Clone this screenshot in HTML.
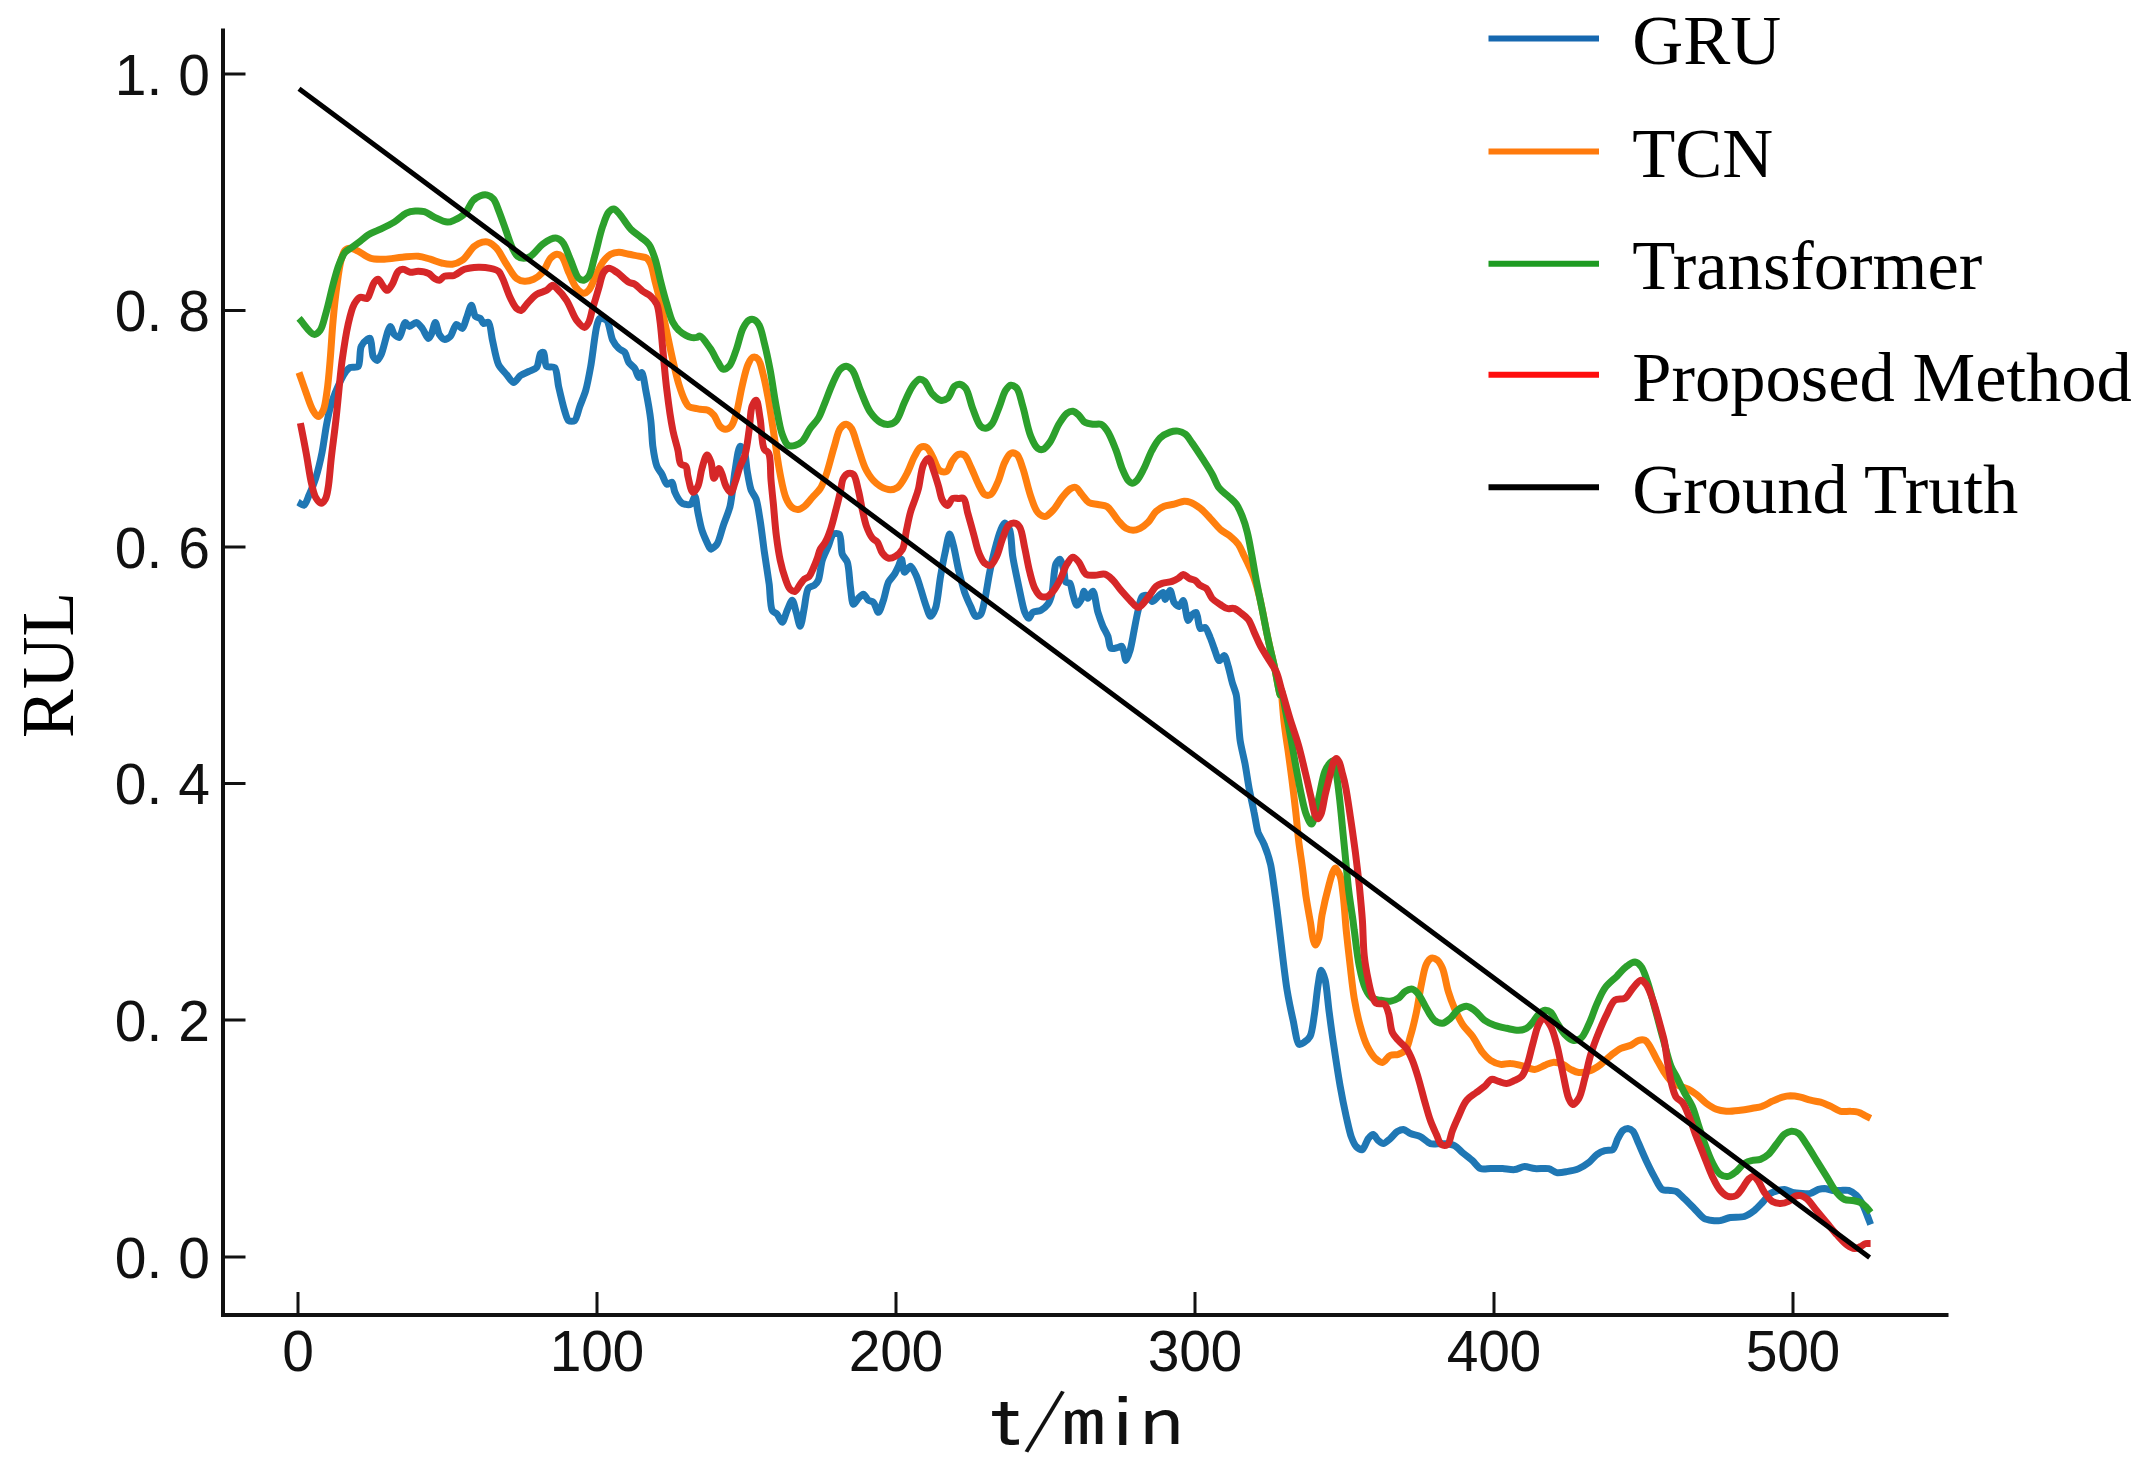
<!DOCTYPE html>
<html><head><meta charset="utf-8"><title>RUL</title>
<style>
html,body{margin:0;padding:0;background:#fff}
body{width:2145px;height:1474px;overflow:hidden}
svg{display:block}
.tk text{font-family:"Liberation Sans","DejaVu Sans",sans-serif;font-size:57px;fill:#111;text-anchor:middle}
.lg{font-family:"Liberation Serif","DejaVu Serif",serif;font-size:70.55px;fill:#000}
.yl{font-family:"Liberation Serif","DejaVu Serif",serif;font-size:73px;fill:#000;text-anchor:middle}
.xl{font-family:"IPAGothic","Liberation Mono","DejaVu Sans Mono",monospace;font-size:70px;fill:#111;text-anchor:middle;letter-spacing:-5px}
</style></head><body>
<svg width="2145" height="1474" viewBox="0 0 2145 1474">
<rect width="2145" height="1474" fill="#fff"/>
<g fill="none" stroke-linejoin="round" stroke-linecap="butt">
<path d="M298.0,502.2C299.6,503.0 302.7,505.7 304.0,505.2C305.8,504.7 307.7,498.3 309.0,495.2C310.8,491.3 314.1,483.3 315.7,478.2C317.6,472.0 320.7,459.1 322.1,452.1C323.5,445.2 325.1,432.4 326.3,426.1C327.3,420.8 328.8,412.6 330.1,408.0C331.3,403.7 333.5,396.9 335.3,392.5C337.5,387.3 343.3,375.0 345.7,371.7C347.0,370.0 348.6,368.2 350.1,367.5C351.9,366.7 356.7,368.0 358.2,366.5C360.5,364.2 359.4,350.2 361.2,346.4C362.3,343.9 365.7,340.4 367.2,339.4C368.0,338.8 369.5,338.0 370.2,338.4C371.8,339.4 371.7,353.5 373.2,356.5C374.0,358.1 376.2,360.6 377.2,360.5C378.3,360.4 380.1,356.8 381.2,354.5C383.5,349.8 388.1,326.5 390.2,326.4C391.4,326.3 392.8,332.9 394.2,334.4C395.4,335.6 398.1,337.8 399.3,337.4C401.2,336.7 403.5,322.7 405.3,322.4C406.3,322.2 408.0,326.2 409.3,326.4C410.8,326.6 414.6,322.1 416.3,322.4C418.1,322.6 420.8,326.5 422.3,328.4C424.1,330.6 426.9,338.3 428.3,338.4C429.2,338.5 430.6,335.8 431.3,334.4C432.5,332.1 434.3,322.4 435.3,322.4C436.4,322.4 437.9,332.0 439.3,334.4C440.5,336.2 442.9,339.2 444.4,339.4C445.8,339.7 449.0,337.8 450.4,336.4C452.4,334.4 454.4,324.9 456.4,324.4C457.8,324.0 461.1,328.8 462.4,328.4C464.0,327.9 465.3,321.2 466.4,318.4C467.7,315.1 470.2,305.3 471.4,305.3C472.6,305.3 473.8,314.7 475.4,316.4C476.5,317.5 479.4,317.5 480.4,318.4C481.5,319.3 482.3,322.9 483.4,323.4C484.5,323.8 487.4,321.7 488.5,322.4C490.5,323.7 491.3,335.3 492.5,340.4C493.9,346.4 496.1,359.6 498.5,364.5C500.2,368.0 504.4,372.0 506.5,374.5C508.4,376.8 511.6,382.5 513.5,382.5C515.4,382.6 518.5,377.0 520.5,375.5C522.5,374.1 526.4,372.6 528.6,371.5C530.7,370.4 535.0,369.4 536.6,367.5C538.6,365.1 539.1,355.0 540.6,353.4C541.3,352.7 542.9,352.1 543.6,352.4C545.0,353.3 544.6,364.7 546.6,366.5C548.1,367.8 553.0,366.0 554.6,367.5C557.1,369.7 557.4,381.2 558.6,386.5C560.0,392.6 563.0,405.6 564.6,410.6C565.7,413.9 567.0,419.5 568.6,420.6C569.9,421.5 573.4,421.5 574.7,420.6C576.7,419.2 578.3,410.4 579.7,406.6C581.2,402.4 584.3,395.3 585.7,390.5C587.3,384.8 589.4,373.7 590.7,366.5C592.4,357.2 595.0,332.9 596.7,326.4C597.5,323.4 598.3,319.1 599.7,318.4C601.0,317.7 605.2,318.9 606.7,320.4C609.3,322.9 610.7,336.4 612.8,340.4C614.2,343.2 617.0,346.8 618.8,348.4C620.3,349.9 623.5,350.9 624.8,352.4C626.3,354.4 627.3,360.3 628.8,362.5C630.1,364.4 633.5,366.6 634.8,368.5C636.2,370.5 637.8,377.4 638.8,377.5C639.6,377.6 641.1,372.4 641.8,372.5C643.1,372.7 644.8,385.1 645.8,390.5C647.2,397.5 649.9,412.9 650.8,420.6C651.7,427.7 652.0,439.7 652.8,446.1C653.6,451.8 655.3,462.1 656.9,466.2C657.9,468.9 660.6,471.9 661.9,474.2C663.3,476.7 665.2,483.6 666.9,484.2C668.0,484.6 670.9,481.7 671.9,482.2C673.3,482.9 673.7,489.6 674.9,492.2C676.1,495.0 679.2,500.7 680.9,502.2C681.9,503.2 683.7,504.0 684.9,504.2C686.3,504.6 689.7,505.0 690.9,504.2C692.5,503.3 694.1,496.1 694.9,496.2C696.1,496.4 697.0,507.9 697.9,512.3C698.9,516.9 700.4,525.6 702.0,530.3C703.6,535.2 708.7,546.7 710.0,548.3C710.3,548.8 710.6,549.2 711.0,549.2C712.0,549.1 715.7,546.2 717.0,544.1C719.2,541.0 721.4,531.0 723.1,526.1C724.8,520.9 728.6,512.3 730.1,506.1C732.0,498.0 733.6,479.0 735.1,470.4C736.3,463.4 738.2,446.9 740.1,446.4C741.0,446.1 743.3,448.7 744.1,450.4C745.7,453.5 746.2,465.1 747.1,470.4C748.0,475.7 749.6,485.9 751.1,490.0C752.2,493.0 755.0,496.0 756.1,499.0C757.7,503.4 759.1,514.0 760.1,520.1C761.3,527.4 763.0,541.9 764.1,550.2C765.4,559.0 768.0,575.8 769.2,584.2C770.1,591.6 770.1,606.6 772.2,610.3C773.2,612.2 775.9,612.9 777.2,614.3C778.7,616.0 780.9,622.4 782.2,622.3C783.7,622.2 785.8,613.3 787.2,610.3C788.5,607.5 791.0,600.2 792.2,600.3C793.5,600.4 795.2,609.0 796.2,612.3C797.3,615.9 799.2,626.4 800.2,626.3C801.4,626.3 803.2,613.2 804.2,608.3C805.3,603.1 806.1,591.1 808.3,588.3C809.5,586.6 812.9,586.3 814.3,585.2C815.6,584.2 817.4,582.2 818.3,580.2C819.9,576.8 820.8,565.0 822.3,560.2C823.6,556.0 826.8,549.8 828.3,546.2C829.7,542.8 831.4,535.4 833.3,534.1C834.6,533.2 838.1,533.1 839.3,534.1C841.5,536.0 840.8,550.1 842.3,554.2C843.3,556.9 846.3,559.3 847.3,562.2C849.0,566.8 849.5,580.3 850.3,586.2C851.1,591.4 851.8,603.9 853.4,604.3C854.4,604.6 857.0,599.7 858.4,598.3C859.6,597.0 862.1,594.1 863.4,594.3C864.8,594.4 866.9,599.2 868.4,600.3C869.6,601.2 872.2,601.2 873.4,602.3C875.1,603.8 877.1,612.4 878.4,612.3C879.8,612.3 882.2,603.9 883.4,600.3C884.9,596.0 886.6,586.0 888.4,582.2C889.8,579.5 893.1,576.4 894.5,574.2C895.7,572.1 897.5,568.3 898.5,566.2C899.4,564.3 900.8,559.1 901.5,559.2C902.4,559.3 903.0,571.8 904.5,572.2C905.7,572.6 909.0,566.0 910.5,566.2C912.2,566.4 915.2,573.4 916.5,576.2C917.9,579.2 919.4,584.8 920.5,588.3C921.8,592.2 924.1,600.3 925.5,604.3C926.8,607.8 929.1,616.2 930.5,616.3C931.8,616.4 934.4,611.3 935.5,608.3C937.6,602.7 939.1,584.3 940.6,576.2C941.8,568.9 944.2,556.3 945.6,550.2C946.6,545.4 948.4,534.2 949.6,534.1C950.6,534.1 952.6,542.4 953.6,546.2C955.0,551.4 957.1,564.0 958.6,570.2C960.1,576.2 962.8,587.1 964.6,592.3C966.1,596.5 969.0,602.9 970.6,606.3C972.0,609.2 974.0,615.7 975.6,616.3C976.8,616.8 979.6,615.5 980.7,614.3C982.4,612.4 983.6,604.7 984.7,600.3C986.1,594.1 988.3,579.2 989.7,572.2C990.9,566.0 993.2,555.9 994.7,550.2C996.1,544.7 999.0,534.0 1000.7,530.1C1001.7,527.7 1003.5,523.2 1004.7,523.1C1005.9,523.0 1008.7,527.5 1009.7,530.1C1011.5,534.7 1011.6,549.0 1012.7,556.2C1013.9,563.9 1017.1,578.5 1018.7,586.2C1020.3,593.5 1022.9,607.9 1024.8,612.3C1025.7,614.6 1027.7,618.3 1028.8,618.3C1029.8,618.3 1031.3,613.4 1032.8,612.3C1034.4,611.2 1038.8,611.3 1040.8,610.3C1042.9,609.2 1046.4,606.3 1047.8,604.3C1049.4,602.1 1050.9,597.7 1051.8,594.3C1053.3,588.5 1053.9,568.7 1055.8,564.2C1056.7,562.1 1058.9,559.0 1059.8,559.2C1061.1,559.4 1063.0,567.2 1063.8,570.2C1064.7,573.3 1064.5,580.8 1065.9,582.2C1066.6,583.1 1069.0,582.4 1069.9,583.2C1071.3,584.6 1071.9,591.3 1072.9,594.3C1073.8,597.2 1075.5,605.1 1076.9,605.3C1078.0,605.4 1080.9,600.2 1081.9,598.3C1082.8,596.5 1083.1,591.4 1083.9,591.3C1084.7,591.2 1086.7,598.2 1087.9,598.3C1089.1,598.3 1091.8,591.0 1092.9,591.3C1094.7,591.6 1096.4,607.3 1097.9,612.3C1099.2,616.5 1101.5,623.0 1102.9,626.3C1104.2,629.3 1106.9,633.5 1107.9,636.4C1109.1,639.4 1109.2,647.2 1111.0,648.4C1112.3,649.3 1116.4,647.7 1118.0,647.4C1119.2,647.1 1121.1,645.9 1122.0,646.4C1123.7,647.4 1124.8,660.4 1126.0,660.4C1127.0,660.5 1129.1,653.7 1130.0,650.6C1131.4,646.2 1133.0,635.9 1134.1,630.5C1135.1,625.2 1136.9,615.3 1138.1,610.5C1139.1,606.4 1140.3,598.1 1142.1,596.5C1143.1,595.5 1145.9,595.0 1147.1,595.5C1148.6,596.0 1150.6,601.3 1152.1,601.5C1153.6,601.6 1156.6,597.7 1158.1,596.5C1159.5,595.3 1162.2,592.2 1163.1,592.4C1164.1,592.8 1164.3,599.4 1165.1,599.5C1166.1,599.6 1169.0,590.3 1170.1,590.4C1171.4,590.6 1172.6,600.3 1174.1,602.5C1175.2,604.0 1178.0,606.7 1179.2,606.5C1180.4,606.3 1182.2,600.3 1183.2,600.5C1184.8,600.7 1186.5,620.2 1188.2,620.5C1189.1,620.7 1191.0,615.6 1192.2,614.5C1193.2,613.6 1195.3,612.1 1196.2,612.5C1197.9,613.3 1198.3,627.3 1200.2,628.5C1201.3,629.2 1204.1,627.0 1205.2,627.5C1206.9,628.4 1209.0,634.8 1210.2,637.6C1211.5,640.4 1213.1,645.6 1214.2,648.6C1215.5,651.7 1217.6,660.3 1219.3,660.6C1220.4,660.8 1223.2,655.3 1224.3,655.6C1225.7,655.9 1227.3,663.4 1228.3,666.6C1229.5,670.5 1231.1,678.7 1232.3,682.7C1233.3,686.2 1235.5,691.3 1236.3,695.1C1237.3,699.9 1237.6,710.3 1238.1,716.1C1238.6,722.3 1239.2,733.8 1240.1,740.2C1241.0,746.6 1243.9,757.8 1245.1,764.2C1246.3,770.6 1247.9,781.9 1249.1,788.3C1250.3,794.7 1252.9,806.2 1254.1,812.4C1255.3,817.9 1256.6,827.8 1258.1,832.4C1259.4,836.1 1262.7,840.7 1264.1,844.4C1266.0,849.0 1269.3,858.9 1270.6,864.5C1271.9,870.2 1273.1,880.5 1274.0,886.5C1274.9,892.8 1276.3,903.8 1277.2,910.6C1278.1,918.2 1279.7,931.6 1280.8,940.7C1282.2,952.2 1285.2,978.7 1287.1,990.2C1288.6,999.3 1291.4,1012.7 1293.1,1020.3C1294.6,1027.1 1296.7,1043.1 1299.1,1044.3C1300.3,1044.9 1302.8,1043.2 1304.1,1042.3C1305.8,1041.2 1308.9,1038.6 1310.1,1036.3C1312.1,1032.7 1313.2,1022.3 1314.1,1016.3C1315.4,1008.7 1317.0,991.0 1318.2,984.2C1318.9,979.7 1320.1,970.3 1321.2,970.2C1322.1,970.1 1324.3,976.7 1325.2,980.2C1326.7,986.3 1328.0,1003.5 1329.2,1012.3C1330.4,1021.6 1332.7,1038.6 1334.2,1048.3C1335.7,1058.4 1338.5,1076.9 1340.2,1086.4C1341.7,1094.9 1344.6,1109.3 1346.2,1116.5C1347.6,1122.4 1349.6,1132.2 1351.2,1136.6C1352.4,1139.8 1354.5,1144.8 1356.2,1146.6C1357.6,1147.9 1360.8,1150.0 1362.3,1149.6C1364.2,1149.0 1366.5,1140.7 1368.3,1138.6C1369.5,1137.1 1372.0,1134.4 1373.3,1134.5C1374.7,1134.7 1376.8,1139.3 1378.3,1140.6C1379.6,1141.6 1381.9,1143.6 1383.3,1143.6C1385.0,1143.5 1388.5,1140.1 1390.3,1138.6C1392.3,1136.9 1395.4,1132.7 1397.3,1131.5C1398.9,1130.6 1401.7,1129.4 1403.4,1129.5C1405.2,1129.7 1408.3,1132.6 1410.4,1133.5C1412.8,1134.6 1417.8,1135.3 1420.4,1136.6C1423.2,1137.9 1427.5,1142.6 1430.4,1143.6C1433.3,1144.5 1439.3,1143.3 1442.4,1143.6C1445.7,1143.8 1451.7,1144.3 1454.5,1145.6C1457.0,1146.8 1460.2,1150.7 1462.5,1152.6C1465.0,1154.7 1470.0,1158.4 1472.5,1160.6C1474.8,1162.7 1478.0,1167.6 1480.5,1168.6C1482.9,1169.6 1487.8,1168.6 1490.6,1168.6C1493.6,1168.6 1499.4,1168.5 1502.6,1168.6C1505.8,1168.8 1511.6,1169.9 1514.6,1169.6C1517.4,1169.3 1521.9,1166.7 1524.6,1166.6C1527.3,1166.5 1531.7,1168.3 1534.7,1168.6C1538.1,1169.0 1545.5,1167.9 1548.7,1168.6C1551.2,1169.2 1554.4,1172.2 1556.7,1172.6C1559.2,1173.1 1564.0,1172.1 1566.7,1171.6C1569.8,1171.1 1575.8,1169.9 1578.8,1168.6C1581.7,1167.4 1586.4,1164.5 1588.8,1162.6C1591.2,1160.7 1594.5,1156.2 1596.8,1154.6C1598.8,1153.1 1602.6,1151.2 1604.8,1150.6C1606.9,1150.0 1611.2,1150.8 1612.8,1149.6C1614.9,1148.1 1616.4,1141.2 1617.9,1138.6C1619.1,1136.2 1621.3,1131.9 1622.9,1130.5C1624.1,1129.5 1626.5,1128.5 1627.9,1128.5C1629.3,1128.6 1631.9,1130.0 1633.1,1131.3C1634.8,1133.1 1636.6,1139.0 1638.1,1142.3C1640.0,1146.5 1643.9,1155.7 1646.1,1160.4C1648.2,1164.8 1651.9,1172.4 1654.1,1176.4C1656.2,1180.1 1659.5,1187.8 1662.1,1189.4C1664.0,1190.7 1668.2,1190.2 1670.2,1190.4C1671.9,1190.7 1674.6,1190.7 1676.2,1191.4C1678.3,1192.5 1682.0,1196.4 1684.2,1198.5C1686.8,1200.9 1691.5,1205.8 1694.2,1208.5C1696.9,1211.2 1701.5,1217.0 1704.2,1218.5C1706.3,1219.7 1710.1,1220.2 1712.3,1220.5C1714.4,1220.8 1718.0,1220.8 1720.3,1220.5C1722.8,1220.1 1727.4,1218.0 1730.3,1217.5C1733.7,1216.9 1741.0,1217.6 1744.3,1216.5C1747.4,1215.5 1751.9,1212.4 1754.4,1210.5C1756.7,1208.6 1760.3,1204.7 1762.4,1202.5C1764.6,1200.2 1768.0,1195.1 1770.4,1193.4C1772.4,1192.1 1776.4,1191.0 1778.4,1190.4C1780.1,1190.0 1782.7,1189.3 1784.4,1189.4C1786.4,1189.6 1790.2,1191.9 1792.4,1192.4C1794.9,1193.0 1799.9,1193.3 1802.5,1193.4C1804.7,1193.6 1808.4,1193.9 1810.5,1193.4C1812.7,1192.9 1816.5,1190.1 1818.5,1189.4C1820.2,1188.9 1822.8,1188.4 1824.5,1188.4C1826.5,1188.5 1830.4,1190.2 1832.5,1190.4C1834.7,1190.7 1838.4,1190.4 1840.6,1190.4C1842.7,1190.4 1846.5,1189.9 1848.6,1190.4C1850.8,1191.1 1854.8,1193.7 1856.6,1195.5C1858.6,1197.4 1861.2,1201.8 1862.6,1204.5C1864.2,1207.4 1866.5,1213.6 1867.6,1216.5C1868.6,1218.8 1869.8,1222.4 1870.6,1224.5" stroke="#1f77b4" stroke-width="7.0"/>
<path d="M299.0,372.5C301.4,379.2 303.6,386.1 306.0,392.5C308.3,398.7 310.5,406.3 313.1,410.6C314.7,413.3 316.4,416.6 318.1,416.6C319.7,416.6 321.7,413.4 323.1,410.6C325.3,406.0 326.0,397.9 327.1,390.5C328.4,381.6 329.2,371.2 330.1,360.5C331.2,348.1 331.9,333.4 333.1,320.4C334.2,308.0 335.6,295.1 337.1,284.3C338.3,275.4 339.4,266.5 341.1,260.2C342.3,256.1 343.2,252.1 345.1,250.2C346.5,248.8 348.3,248.2 350.1,248.2C352.5,248.2 355.3,249.8 358.2,251.2C361.8,253.0 365.9,256.9 370.2,258.2C374.5,259.6 379.3,259.3 384.2,259.2C389.9,259.1 396.4,257.7 402.3,257.2C407.8,256.7 413.4,255.8 418.3,256.2C422.6,256.6 426.3,258.1 430.3,259.2C434.4,260.4 438.5,262.4 442.4,263.2C445.8,264.0 449.1,264.7 452.4,264.2C455.8,263.8 459.2,262.5 462.4,260.2C466.6,257.2 470.5,249.3 474.4,246.2C477.2,244.1 479.9,242.8 482.4,242.2C484.5,241.7 486.4,241.5 488.5,242.2C491.1,243.1 493.9,245.4 496.5,248.2C500.0,252.1 503.1,259.1 506.5,264.2C509.8,269.1 512.9,275.5 516.5,278.3C519.1,280.2 521.8,281.1 524.5,281.3C527.4,281.5 530.7,280.6 533.6,279.3C536.8,277.8 539.9,275.3 542.6,272.3C545.8,268.6 547.7,261.3 550.6,258.2C552.5,256.2 554.7,254.4 556.6,254.2C558.3,254.0 560.1,254.7 561.6,256.2C564.4,258.9 566.2,266.9 568.6,272.3C571.2,277.6 573.6,284.7 576.7,288.3C578.8,290.8 581.5,293.2 583.7,293.3C585.5,293.4 587.2,292.0 588.7,290.3C591.0,287.8 592.6,282.6 594.7,278.3C597.2,273.3 599.7,266.5 602.7,262.2C605.2,258.9 607.8,255.9 610.7,254.2C613.2,252.8 615.9,252.3 618.8,252.2C621.9,252.1 625.4,253.6 628.8,254.2C632.1,254.9 635.7,255.5 638.8,256.2C641.6,256.9 644.8,256.8 646.8,258.2C648.7,259.6 649.7,261.6 650.8,264.2C652.6,268.2 653.4,274.4 654.8,280.3C656.7,287.5 658.9,296.0 660.9,304.3C662.9,313.3 664.9,323.0 666.9,332.4C668.9,341.8 670.8,351.5 672.9,360.5C674.8,368.8 676.7,377.4 678.9,384.5C680.8,390.5 682.9,396.6 684.9,400.6C686.2,403.1 687.0,405.2 688.9,406.6C691.0,408.0 694.9,408.1 696.9,408.6C698.2,408.9 698.7,409.1 700.0,409.3C702.0,409.6 705.7,409.3 708.0,410.3C710.3,411.3 712.2,413.1 714.0,415.3C716.3,418.1 717.8,424.0 720.0,426.3C721.6,427.9 723.3,429.3 725.1,429.3C727.0,429.4 729.4,428.1 731.1,426.3C733.4,423.8 734.5,419.2 736.1,414.3C738.4,407.0 740.0,395.0 742.1,386.2C744.0,378.4 745.7,369.3 748.1,364.2C749.6,361.0 751.2,357.7 753.1,357.2C754.6,356.7 756.7,357.7 758.1,359.2C760.6,361.7 761.6,368.5 763.1,374.2C765.0,381.2 766.5,389.3 768.2,398.3C770.2,409.5 772.2,423.6 774.2,436.3C776.2,449.0 777.9,463.2 780.2,474.4C782.0,483.4 783.6,492.6 786.2,498.5C787.9,502.4 789.9,505.7 792.2,507.5C794.0,508.9 796.3,509.7 798.2,509.5C800.3,509.4 802.2,508.0 804.2,506.5C806.9,504.4 809.6,500.5 812.3,497.5C814.9,494.5 818.0,492.0 820.3,488.5C822.8,484.5 824.3,480.0 826.3,474.4C829.0,466.7 831.7,454.7 834.3,446.4C836.4,439.7 837.6,432.0 840.3,428.3C842.0,426.1 844.5,424.2 846.3,424.3C848.1,424.4 849.8,426.2 851.4,428.3C854.1,432.3 855.9,441.5 858.4,448.4C860.9,455.6 863.0,464.2 866.4,470.4C869.2,475.6 872.5,480.2 876.4,483.4C880.0,486.4 884.6,489.0 888.4,489.5C891.6,489.9 894.8,489.3 897.5,487.5C901.0,485.1 903.8,479.3 906.5,474.4C909.5,469.0 911.8,461.3 914.5,456.4C916.5,452.8 918.1,448.6 920.5,447.4C922.3,446.4 924.7,446.4 926.5,447.4C928.9,448.6 930.6,453.0 932.5,456.4C934.9,460.5 936.5,468.2 939.6,470.4C941.6,471.9 944.6,472.4 946.6,471.4C949.2,470.1 950.3,463.4 952.6,460.4C954.4,457.9 956.4,455.1 958.6,454.4C960.5,453.8 962.9,454.1 964.6,455.4C967.1,457.2 968.6,462.2 970.6,466.4C973.2,471.6 976.0,479.4 978.6,484.5C980.7,488.4 982.2,493.1 984.7,494.5C986.4,495.5 988.9,495.5 990.7,494.5C993.4,492.9 995.6,487.1 997.7,482.4C1000.3,476.7 1002.1,467.6 1004.7,462.4C1006.6,458.7 1008.3,454.4 1010.7,453.4C1012.5,452.6 1015.0,453.0 1016.7,454.4C1019.5,456.5 1020.8,462.9 1022.8,468.4C1025.5,476.1 1027.9,488.5 1030.8,496.5C1033.0,502.7 1034.8,509.2 1037.8,512.5C1039.8,514.8 1042.4,516.7 1044.8,516.5C1047.4,516.4 1050.2,513.2 1052.8,510.5C1056.3,507.0 1059.5,500.4 1062.8,496.5C1065.5,493.3 1068.3,489.8 1070.9,488.5C1072.6,487.5 1074.3,486.9 1075.9,487.5C1078.0,488.2 1079.8,492.1 1081.9,494.5C1084.1,497.1 1086.1,500.8 1088.9,502.5C1091.5,504.0 1094.9,503.8 1097.9,504.5C1100.9,505.2 1104.1,504.7 1106.9,506.5C1110.9,509.0 1114.5,516.4 1118.0,520.3C1120.8,523.4 1123.2,526.6 1126.0,528.3C1128.3,529.6 1130.7,530.3 1133.1,530.3C1135.4,530.3 1137.8,529.4 1140.1,528.3C1142.8,527.0 1145.6,524.8 1148.1,522.3C1151.0,519.3 1153.1,514.0 1156.1,511.3C1158.6,509.0 1161.2,507.4 1164.1,506.2C1167.2,505.0 1170.8,505.1 1174.1,504.2C1177.5,503.4 1181.2,501.4 1184.2,501.2C1186.4,501.1 1188.0,501.4 1190.2,502.2C1193.2,503.3 1197.0,505.8 1200.2,508.3C1203.7,511.0 1206.9,514.8 1210.2,518.3C1213.6,521.8 1216.7,526.2 1220.3,529.3C1223.4,532.1 1227.2,533.8 1230.3,536.3C1233.2,538.8 1236.1,541.2 1238.3,544.3C1240.6,547.6 1242.2,551.9 1243.9,555.4C1245.5,558.5 1246.9,561.5 1248.3,564.4C1249.6,567.1 1250.8,569.6 1251.9,572.4C1253.2,575.5 1254.4,578.9 1255.5,582.4C1256.8,586.3 1257.9,590.3 1258.9,594.7C1260.2,599.6 1261.1,604.4 1262.4,610.5C1264.1,618.9 1266.3,630.9 1268.4,640.6C1270.3,649.6 1272.4,657.7 1274.4,666.6C1276.4,675.9 1279.5,695.1 1280.4,695.1C1280.8,695.1 1280.8,690.1 1281.0,690.1C1281.4,690.1 1282.1,701.0 1282.6,706.1C1283.0,710.9 1283.3,715.0 1283.8,719.9C1284.4,725.6 1285.4,732.7 1286.2,738.2C1286.8,742.6 1287.3,745.3 1288.0,750.2C1289.1,758.0 1290.7,770.1 1292.0,780.3C1293.3,790.8 1294.7,802.0 1295.8,812.4C1296.9,822.0 1297.5,830.9 1298.6,840.4C1299.8,850.3 1301.6,860.8 1302.8,870.5C1304.0,879.5 1304.8,887.9 1306.0,896.6C1307.3,905.3 1309.1,914.7 1310.5,922.6C1311.6,929.2 1312.2,936.7 1313.5,940.7C1314.1,942.7 1314.9,945.1 1315.7,945.1C1316.6,945.1 1317.8,941.6 1318.7,938.6C1320.3,933.3 1320.5,923.0 1322.1,914.6C1323.9,905.1 1327.0,892.3 1329.1,884.5C1330.4,879.6 1331.4,875.5 1332.7,872.5C1333.5,870.5 1334.4,867.9 1335.3,867.9C1336.1,867.8 1337.1,870.2 1337.9,871.5C1338.8,873.0 1339.6,874.2 1340.3,876.5C1341.7,880.9 1342.4,889.0 1343.3,896.6C1344.5,906.3 1345.1,918.7 1346.2,930.1C1347.4,941.9 1348.9,954.5 1350.2,966.2C1351.5,977.2 1352.5,987.9 1354.2,998.2C1355.9,1007.9 1357.9,1017.8 1360.3,1026.3C1362.3,1033.6 1364.4,1040.7 1367.3,1046.3C1369.6,1051.0 1372.4,1055.6 1375.3,1058.4C1377.5,1060.4 1380.0,1062.6 1382.3,1062.4C1385.0,1062.1 1387.4,1056.7 1390.3,1055.4C1392.8,1054.2 1395.8,1055.2 1398.3,1054.4C1400.9,1053.5 1403.5,1052.6 1405.4,1050.3C1407.9,1047.3 1408.8,1041.7 1410.4,1036.3C1412.5,1029.4 1414.6,1020.6 1416.4,1012.3C1418.3,1003.3 1419.6,992.7 1421.4,984.2C1423.0,976.9 1424.1,968.7 1426.4,964.1C1427.8,961.3 1429.5,958.7 1431.4,958.1C1433.2,957.6 1435.7,958.8 1437.4,960.1C1439.5,961.8 1440.9,964.6 1442.4,968.2C1444.9,973.9 1446.2,985.1 1448.5,992.2C1450.3,998.2 1452.2,1003.0 1454.5,1008.3C1456.8,1013.7 1459.4,1019.5 1462.5,1024.3C1465.4,1028.8 1469.3,1031.9 1472.5,1036.3C1476.0,1041.2 1479.1,1048.1 1482.5,1052.4C1485.2,1055.7 1487.5,1058.4 1490.6,1060.4C1493.5,1062.3 1497.2,1063.9 1500.6,1064.4C1503.9,1064.8 1507.3,1063.2 1510.6,1063.4C1514.0,1063.5 1517.0,1064.5 1520.6,1065.4C1524.9,1066.4 1530.4,1069.6 1534.7,1069.4C1538.3,1069.2 1541.5,1066.6 1544.7,1065.4C1547.5,1064.3 1549.8,1062.6 1552.7,1062.4C1555.8,1062.1 1559.7,1063.2 1562.7,1064.4C1565.7,1065.5 1568.0,1068.0 1570.7,1069.4C1573.4,1070.7 1575.8,1072.1 1578.8,1072.4C1582.3,1072.7 1587.1,1071.8 1590.8,1070.4C1594.4,1069.1 1597.6,1066.8 1600.8,1064.4C1604.3,1061.8 1607.4,1058.1 1610.8,1055.4C1614.1,1052.8 1617.4,1050.0 1620.9,1048.3C1624.1,1046.8 1627.8,1046.7 1630.9,1045.3C1633.8,1044.0 1636.3,1041.1 1638.9,1040.3C1641.0,1039.7 1643.2,1039.6 1644.9,1040.3C1646.7,1041.1 1647.7,1043.0 1649.1,1045.1C1651.3,1048.3 1653.7,1053.7 1656.1,1058.1C1658.7,1062.7 1661.3,1068.0 1664.1,1072.2C1666.7,1075.9 1669.2,1079.8 1672.2,1082.2C1674.6,1084.2 1677.5,1085.0 1680.2,1086.2C1682.8,1087.4 1685.6,1087.9 1688.2,1089.2C1690.9,1090.6 1693.5,1092.2 1696.2,1094.2C1699.5,1096.7 1702.8,1100.7 1706.2,1103.2C1709.5,1105.6 1712.8,1107.9 1716.3,1109.3C1719.5,1110.5 1722.7,1111.0 1726.3,1111.3C1730.6,1111.5 1735.8,1110.8 1740.3,1110.3C1744.5,1109.8 1748.5,1109.0 1752.4,1108.3C1755.9,1107.6 1759.1,1107.4 1762.4,1106.2C1765.8,1105.1 1769.0,1102.8 1772.4,1101.2C1775.7,1099.7 1779.2,1098.1 1782.4,1097.2C1785.2,1096.4 1787.6,1095.9 1790.4,1095.8C1793.6,1095.8 1797.2,1096.5 1800.5,1097.2C1803.8,1098.0 1807.1,1099.4 1810.5,1100.2C1813.8,1101.1 1817.2,1101.3 1820.5,1102.2C1823.9,1103.2 1827.2,1104.8 1830.5,1106.2C1833.9,1107.8 1837.1,1110.4 1840.6,1111.3C1843.8,1112.0 1847.4,1111.1 1850.6,1111.3C1853.4,1111.4 1856.2,1111.5 1858.6,1112.3C1860.8,1112.9 1862.6,1114.3 1864.6,1115.3C1866.6,1116.3 1868.6,1117.3 1870.6,1118.3" stroke="#ff7f0e" stroke-width="7.0"/>
<path d="M299.0,318.4C304.0,323.7 310.0,333.9 314.1,334.4C316.4,334.7 318.4,332.6 320.1,330.4C322.8,326.8 324.1,319.1 326.1,312.4C328.5,304.1 330.8,292.8 333.1,284.3C335.1,277.0 336.8,270.0 339.1,264.2C340.9,259.6 342.6,255.2 345.1,252.2C347.1,249.9 349.7,249.0 352.1,247.2C354.7,245.3 357.4,243.3 360.2,241.2C363.1,239.0 366.1,236.0 369.2,234.2C372.1,232.4 374.8,231.8 378.2,230.2C382.8,228.0 389.4,225.1 394.2,222.1C398.7,219.4 402.4,214.9 406.3,213.1C409.3,211.7 412.3,211.3 415.3,211.1C418.3,210.9 421.3,210.9 424.3,211.7C427.7,212.7 430.7,215.5 434.3,217.1C438.3,219.0 443.7,222.0 447.4,222.1C450.0,222.3 451.9,221.2 454.4,220.1C457.5,218.8 461.4,217.0 464.4,214.1C467.9,210.7 470.2,203.3 473.4,200.1C475.7,197.9 478.0,196.5 480.4,195.7C482.7,194.9 485.3,194.5 487.5,195.1C489.6,195.6 491.8,197.1 493.5,199.1C495.7,201.7 496.8,205.9 498.5,210.1C500.7,215.6 503.2,222.8 505.5,229.2C507.8,235.5 510.1,243.3 512.5,248.2C514.2,251.6 515.4,254.6 517.5,256.2C519.2,257.6 521.5,258.2 523.5,258.2C525.8,258.3 528.1,257.7 530.6,256.2C534.3,254.0 538.8,247.2 542.6,244.2C545.4,242.0 548.0,240.2 550.6,239.2C552.7,238.4 554.7,237.8 556.6,238.2C558.7,238.6 560.8,240.0 562.6,242.2C565.7,245.8 568.0,254.2 570.7,260.2C573.3,266.2 575.7,275.4 578.7,278.3C580.2,279.8 582.1,280.5 583.7,280.3C585.4,280.0 587.2,278.4 588.7,276.3C591.4,272.3 592.6,263.6 594.7,256.2C597.3,247.2 599.9,234.2 602.7,226.2C604.7,220.5 606.3,214.9 608.7,212.1C610.2,210.4 612.1,209.0 613.8,209.1C615.5,209.2 616.9,211.2 618.8,213.1C622.1,216.6 626.7,224.9 630.8,229.2C634.1,232.5 637.7,234.6 640.8,237.2C643.7,239.6 646.6,241.1 648.8,244.2C651.5,247.9 653.0,252.8 654.8,258.2C657.2,265.1 658.8,274.5 660.9,282.3C662.8,289.8 664.8,297.4 666.9,304.3C668.8,310.7 670.4,317.7 672.9,322.4C674.7,325.8 676.6,328.2 678.9,330.4C681.0,332.5 683.7,334.2 685.9,335.4C687.7,336.4 689.2,337.1 690.9,337.4C692.8,337.8 695.3,337.7 696.9,337.4C698.2,337.2 698.8,335.8 700.0,336.1C702.6,336.7 707.0,343.8 710.0,348.1C713.1,352.5 715.6,358.3 718.0,362.2C719.8,365.0 721.1,368.7 723.1,369.2C724.8,369.6 727.3,368.1 729.1,366.2C732.0,363.1 733.9,356.0 736.1,350.1C738.6,343.4 740.3,333.5 743.1,328.1C744.9,324.6 746.9,321.3 749.1,320.1C750.7,319.2 752.6,319.1 754.1,319.7C756.0,320.4 757.7,322.5 759.1,325.1C761.4,329.0 762.5,335.7 764.1,342.1C766.2,350.3 768.3,360.2 770.2,370.2C772.3,381.4 774.0,395.0 776.2,406.3C778.1,416.2 779.6,427.3 782.2,434.3C783.9,439.0 785.6,443.8 788.2,445.4C790.2,446.5 793.0,446.0 795.2,445.4C797.6,444.7 800.1,443.5 802.2,441.4C805.2,438.5 807.5,432.3 810.3,428.3C812.8,424.7 816.0,422.1 818.3,418.3C820.8,414.2 822.2,409.4 824.3,404.3C826.8,398.2 829.5,390.4 832.3,384.2C834.8,378.8 837.3,372.1 840.3,369.2C842.2,367.4 844.4,366.1 846.3,366.2C848.4,366.3 850.5,367.9 852.4,370.2C855.5,374.1 857.5,383.4 860.4,390.2C863.5,397.4 866.5,406.6 870.4,412.3C873.4,416.6 876.9,420.4 880.4,422.3C883.3,423.9 886.7,424.7 889.4,424.3C892.0,423.9 894.4,422.6 896.5,420.3C899.7,416.7 901.7,408.1 904.5,402.3C907.1,396.7 909.6,390.3 912.5,386.2C914.7,383.2 917.2,379.7 919.5,379.2C921.2,378.9 922.9,379.8 924.5,381.2C927.3,383.5 929.5,390.9 932.5,394.2C935.0,396.9 937.8,399.8 940.6,400.3C942.9,400.7 945.5,399.9 947.6,398.3C950.4,396.0 952.0,388.4 954.6,386.2C956.2,384.9 957.9,384.0 959.6,384.2C961.6,384.4 963.8,385.9 965.6,388.2C968.6,392.1 970.1,401.8 972.6,408.3C975.1,414.5 977.6,423.4 980.7,426.3C982.2,427.8 984.0,428.5 985.7,428.3C987.6,428.1 989.9,426.5 991.7,424.3C994.5,421.0 996.4,413.8 998.7,408.3C1001.1,402.5 1003.1,394.2 1005.7,390.2C1007.3,387.8 1008.9,385.5 1010.7,385.2C1012.5,384.9 1015.0,386.3 1016.7,388.2C1019.6,391.5 1020.7,399.5 1022.8,406.3C1025.4,415.0 1027.6,428.7 1030.8,436.3C1032.9,441.4 1035.2,446.5 1037.8,448.4C1039.4,449.5 1041.1,449.9 1042.8,449.4C1045.1,448.7 1047.6,445.5 1049.8,442.4C1053.0,437.9 1055.7,429.5 1058.8,424.3C1061.4,420.1 1064.0,415.4 1066.9,413.3C1068.8,411.9 1070.9,411.0 1072.9,411.3C1074.9,411.6 1077.0,413.6 1078.9,415.3C1081.0,417.2 1082.5,420.8 1084.9,422.3C1087.2,423.7 1090.2,424.0 1092.9,424.3C1095.6,424.6 1098.6,423.4 1100.9,424.3C1103.3,425.3 1105.0,427.5 1106.9,430.3C1110.1,434.8 1113.4,443.6 1116.0,450.1C1118.4,456.2 1119.8,462.8 1122.0,468.2C1123.9,472.6 1125.9,477.6 1128.0,480.2C1129.3,481.7 1130.6,483.1 1132.1,483.2C1133.6,483.3 1135.5,481.8 1137.1,480.2C1139.5,477.7 1141.8,472.6 1144.1,468.2C1146.8,462.8 1149.2,455.4 1152.1,450.1C1154.6,445.6 1156.9,441.2 1160.1,438.1C1163.0,435.3 1166.9,433.2 1170.1,432.1C1172.9,431.1 1175.6,430.7 1178.2,431.1C1180.6,431.4 1183.0,432.4 1185.2,434.1C1187.8,436.1 1189.7,439.7 1192.2,443.1C1195.3,447.4 1198.9,453.0 1202.2,458.1C1205.6,463.4 1209.3,468.9 1212.2,474.2C1214.9,478.9 1216.3,484.4 1219.3,488.2C1221.8,491.5 1225.4,493.5 1228.3,496.2C1231.1,498.9 1234.0,501.1 1236.3,504.2C1238.8,507.7 1240.5,511.9 1242.3,516.3C1244.3,521.2 1245.9,526.6 1247.3,532.3C1248.9,538.6 1250.0,545.1 1251.3,552.4C1252.9,560.9 1254.5,570.9 1256.3,580.4C1258.2,590.3 1260.3,600.5 1262.4,610.5C1264.4,620.5 1266.3,630.9 1268.4,640.6C1270.3,649.6 1272.4,657.7 1274.4,666.6C1276.4,675.9 1279.4,695.1 1280.4,695.1C1280.8,695.1 1280.8,690.1 1281.2,690.1C1282.1,690.0 1284.2,704.3 1285.8,712.1C1287.6,720.9 1289.5,730.8 1291.2,740.2C1292.9,749.5 1294.5,759.1 1296.2,768.3C1297.9,777.1 1299.4,786.2 1301.2,794.3C1302.8,801.5 1304.2,809.0 1306.2,814.4C1307.8,818.3 1309.9,824.1 1311.5,824.0C1313.1,823.9 1314.6,816.7 1315.9,812.4C1317.4,807.1 1318.1,800.8 1319.5,794.5C1321.1,787.3 1322.6,776.9 1324.9,771.3C1326.4,767.7 1328.2,765.0 1329.9,763.2C1331.0,762.1 1332.2,760.5 1333.1,760.8C1334.6,761.4 1335.2,767.8 1336.1,772.3C1337.3,778.4 1338.1,786.2 1339.1,794.5C1340.4,805.0 1341.6,818.6 1342.7,830.0C1343.8,840.5 1344.7,850.3 1345.7,860.5C1346.7,870.5 1347.5,880.5 1348.7,890.5C1349.9,900.6 1352.0,913.4 1353.0,920.6C1353.5,924.6 1353.7,925.9 1354.2,930.1C1355.4,938.2 1357.1,955.7 1359.3,966.2C1361.0,974.5 1362.6,982.5 1365.3,988.2C1367.2,992.4 1369.4,996.3 1372.3,998.2C1374.6,999.8 1377.5,999.7 1380.3,1000.2C1383.4,1000.8 1387.2,1001.6 1390.3,1001.2C1393.2,1000.9 1395.9,999.8 1398.3,998.2C1401.0,996.5 1402.8,992.7 1405.4,991.2C1407.5,989.9 1410.2,988.8 1412.4,989.2C1414.6,989.7 1416.4,991.9 1418.4,994.2C1421.2,997.6 1423.7,1003.8 1426.4,1008.3C1429.0,1012.5 1431.3,1017.8 1434.4,1020.3C1436.8,1022.2 1439.8,1023.5 1442.4,1023.3C1445.2,1023.0 1447.9,1020.4 1450.5,1018.3C1453.3,1015.9 1455.5,1011.3 1458.5,1009.3C1461.0,1007.6 1463.9,1006.1 1466.5,1006.2C1469.2,1006.4 1471.9,1008.3 1474.5,1010.3C1477.9,1012.7 1481.0,1017.7 1484.5,1020.3C1487.7,1022.6 1491.0,1024.0 1494.6,1025.3C1498.3,1026.7 1502.6,1027.5 1506.6,1028.3C1510.6,1029.1 1515.0,1030.4 1518.6,1030.3C1521.6,1030.2 1524.3,1029.6 1526.6,1028.3C1529.0,1027.0 1530.7,1024.5 1532.7,1022.3C1534.8,1019.9 1536.5,1016.3 1538.7,1014.3C1540.5,1012.5 1542.6,1010.5 1544.7,1010.3C1546.6,1010.0 1548.9,1010.8 1550.7,1012.3C1553.1,1014.2 1554.5,1018.8 1556.7,1022.3C1559.2,1026.1 1561.8,1031.2 1564.7,1034.3C1567.2,1036.9 1569.9,1039.8 1572.8,1040.3C1575.3,1040.8 1578.4,1040.1 1580.8,1038.3C1584.1,1035.8 1586.3,1029.5 1588.8,1024.3C1591.7,1018.3 1594.0,1010.5 1596.8,1004.2C1599.4,998.5 1601.4,992.9 1604.8,988.2C1608.1,983.6 1613.0,980.0 1616.9,976.2C1620.3,972.7 1623.5,968.6 1626.9,966.2C1629.5,964.2 1632.5,962.0 1634.9,962.1C1637.1,962.3 1639.2,964.1 1640.9,966.2C1643.5,969.2 1644.9,974.6 1646.9,980.2C1649.7,987.9 1652.3,998.7 1654.9,1008.3C1657.7,1018.1 1660.2,1028.5 1663.0,1038.3C1665.6,1047.8 1668.2,1059.5 1671.0,1066.4C1672.7,1070.6 1674.3,1072.5 1676.2,1076.2C1678.6,1080.9 1681.4,1087.1 1684.2,1092.2C1686.8,1097.1 1689.9,1101.2 1692.2,1106.2C1694.7,1111.8 1696.2,1118.3 1698.2,1124.3C1700.2,1130.3 1702.0,1136.2 1704.2,1142.3C1706.6,1148.9 1709.3,1156.7 1712.3,1162.4C1714.7,1167.0 1717.1,1172.2 1720.3,1174.4C1722.7,1176.1 1725.7,1176.8 1728.3,1176.4C1731.1,1176.0 1733.8,1173.4 1736.3,1171.4C1739.1,1169.2 1741.4,1165.2 1744.3,1163.4C1746.8,1161.8 1749.6,1161.0 1752.4,1160.4C1755.0,1159.7 1757.8,1160.3 1760.4,1159.4C1763.2,1158.4 1765.9,1156.6 1768.4,1154.4C1771.3,1151.8 1773.7,1147.7 1776.4,1144.3C1779.1,1141.0 1781.6,1136.5 1784.4,1134.3C1786.6,1132.6 1789.1,1131.5 1791.4,1131.3C1793.8,1131.2 1796.3,1131.8 1798.5,1133.3C1801.4,1135.4 1803.7,1140.3 1806.5,1144.3C1809.7,1149.1 1813.2,1155.0 1816.5,1160.4C1819.8,1165.7 1823.2,1171.1 1826.5,1176.4C1829.9,1181.8 1833.1,1188.4 1836.6,1192.4C1839.2,1195.5 1841.7,1198.2 1844.6,1199.5C1847.1,1200.6 1849.9,1200.0 1852.6,1200.5C1855.3,1201.0 1858.2,1201.3 1860.6,1202.5C1862.9,1203.6 1864.9,1205.7 1866.6,1207.5C1868.2,1209.1 1869.3,1210.8 1870.6,1212.5" stroke="#2ca02c" stroke-width="7.0"/>
<path d="M300.4,423.1C302.3,432.7 304.2,442.2 306.0,452.1C308.0,462.5 309.6,475.7 311.7,484.2C313.0,489.9 314.0,494.9 316.1,498.2C317.5,500.5 319.5,503.2 321.1,503.2C322.5,503.3 324.2,501.1 325.3,499.2C326.8,496.6 327.3,492.9 328.1,488.2C329.5,480.3 330.2,467.1 331.5,456.1C332.8,444.5 334.4,433.6 335.9,420.0C337.9,402.7 339.8,377.8 342.1,360.5C344.0,346.9 345.8,334.6 348.1,324.4C349.9,316.7 351.5,309.1 354.1,304.3C355.9,301.2 357.8,298.2 360.2,297.3C362.2,296.5 365.5,299.2 367.2,298.3C368.8,297.5 369.2,294.6 370.2,292.3C371.5,289.4 372.5,284.5 374.2,282.3C375.4,280.8 376.9,279.1 378.2,279.3C379.9,279.5 381.6,284.3 383.2,286.3C384.6,287.9 385.9,290.4 387.2,290.3C388.8,290.2 390.6,286.8 392.2,284.3C394.4,280.9 395.8,273.6 398.3,271.3C399.8,269.8 401.5,269.2 403.3,269.3C405.4,269.3 407.8,271.9 410.3,272.3C412.8,272.6 415.5,271.2 418.3,271.3C421.5,271.4 425.5,271.9 428.3,273.3C430.8,274.4 432.3,277.1 434.3,278.3C436.0,279.3 437.7,280.5 439.3,280.3C441.1,280.0 442.2,277.1 444.4,276.3C447.0,275.2 451.2,276.3 454.4,275.3C457.9,274.1 460.6,270.6 464.4,269.3C468.6,267.8 473.9,267.4 478.4,267.2C482.6,267.1 486.9,267.5 490.5,268.3C493.5,268.9 496.5,269.5 498.5,271.3C500.4,272.9 501.0,275.3 502.5,278.3C504.9,283.2 507.8,292.9 510.5,298.3C512.5,302.3 514.3,306.4 516.5,308.3C518.1,309.7 520.0,310.7 521.5,310.3C523.4,309.9 524.5,306.5 526.6,304.3C529.3,301.4 533.0,296.7 536.6,294.3C539.7,292.2 543.8,292.0 546.6,290.3C549.0,288.9 550.8,285.3 552.6,285.3C554.1,285.3 555.1,286.8 556.6,288.3C559.3,290.9 563.6,295.6 566.6,300.3C570.3,306.0 573.0,315.6 576.7,320.4C579.2,323.6 582.5,327.6 584.7,327.4C586.3,327.2 587.5,324.6 588.7,322.4C590.4,319.0 591.2,313.4 592.7,308.3C594.5,302.3 596.8,294.6 598.7,288.3C600.4,282.6 601.4,275.6 603.7,272.3C605.2,270.2 606.8,268.5 608.7,268.3C611.0,268.0 613.9,270.4 616.8,272.3C620.5,274.7 625.3,280.3 628.8,282.3C631.0,283.5 632.8,283.1 634.8,284.3C637.4,285.8 640.1,289.3 642.8,291.3C645.4,293.2 648.5,294.2 650.8,296.3C653.2,298.5 655.4,301.0 656.9,304.3C658.7,308.6 659.0,314.2 659.9,320.4C661.1,328.8 661.8,339.7 662.9,350.4C664.1,362.8 665.2,377.2 666.9,390.5C668.5,403.9 670.7,419.7 672.9,430.6C674.5,438.3 676.5,444.1 677.9,450.1C679.1,455.2 678.8,461.7 680.9,464.1C682.2,465.7 684.7,464.7 685.9,466.2C687.5,468.1 687.0,472.5 687.9,476.2C689.1,480.9 690.8,491.8 692.9,492.2C694.4,492.5 696.6,489.0 697.9,486.2C700.0,482.0 700.3,473.6 702.0,468.2C703.4,463.4 705.3,455.3 707.0,455.1C708.3,455.0 709.9,459.2 711.0,462.1C712.5,466.3 712.4,477.9 714.0,478.2C715.3,478.4 717.6,468.4 719.0,468.4C720.2,468.4 721.1,472.0 722.1,474.4C723.4,477.7 724.3,483.3 726.1,486.5C727.5,489.0 729.6,492.7 731.1,492.5C732.7,492.2 733.7,486.2 735.1,482.4C736.8,477.8 738.3,471.3 740.1,466.4C741.7,462.1 743.7,459.2 745.1,454.4C747.0,447.8 747.9,438.4 749.1,430.3C750.3,422.3 750.2,411.5 752.1,406.3C753.2,403.4 755.0,400.0 756.1,400.3C758.0,400.6 758.9,411.5 760.1,418.3C761.7,427.1 761.4,443.3 764.1,448.8C765.4,451.3 767.6,450.9 768.8,453.4C771.1,458.4 770.2,471.4 771.0,480.0C771.7,488.2 772.5,495.5 773.4,504.1C774.3,514.0 775.1,526.2 776.4,536.1C777.5,544.7 778.6,552.8 780.2,560.2C781.6,566.7 783.3,573.0 785.2,578.2C786.7,582.4 788.0,587.2 790.2,589.3C791.7,590.6 793.7,591.7 795.2,591.3C797.1,590.7 798.6,586.4 800.2,584.2C801.6,582.4 802.7,580.6 804.2,579.2C805.7,577.9 807.8,577.7 809.3,576.2C811.0,574.3 812.0,571.1 813.3,568.2C814.7,565.1 816.1,561.5 817.3,558.2C818.4,555.1 818.9,551.9 820.3,549.2C821.6,546.6 823.8,544.9 825.3,542.1C827.2,538.8 828.8,534.6 830.3,530.1C832.2,524.8 833.7,518.3 835.3,512.1C837.0,505.6 838.9,498.1 840.3,492.0C841.5,487.1 841.5,481.7 843.3,478.4C844.6,476.1 846.5,474.0 848.3,473.4C849.9,473.0 852.0,473.2 853.4,474.4C855.9,476.7 856.9,484.8 858.4,490.5C860.0,496.6 861.0,503.9 862.4,510.1C863.7,515.7 864.6,521.2 866.4,526.1C868.0,530.5 870.2,535.4 872.4,538.1C874.0,540.1 875.9,540.2 877.4,542.1C879.4,544.8 880.3,550.4 882.4,553.2C884.1,555.4 886.2,557.7 888.4,558.2C890.6,558.6 893.3,557.5 895.5,556.2C898.0,554.7 900.7,552.4 902.5,549.2C904.9,544.6 905.1,536.4 906.5,530.1C907.8,524.0 908.9,517.7 910.5,512.1C911.9,507.1 914.1,502.3 915.5,498.0C916.7,494.6 917.5,492.4 918.5,488.5C920.1,482.3 921.0,469.6 923.5,464.4C924.9,461.5 927.0,458.2 928.5,458.4C930.5,458.7 932.0,466.1 933.5,470.4C935.3,475.3 937.0,481.3 938.6,486.5C940.0,491.3 940.6,497.2 942.6,500.5C943.9,502.8 946.0,505.6 947.6,505.5C949.3,505.4 950.5,499.5 952.6,498.5C954.3,497.6 956.7,498.5 958.6,498.5C960.3,498.5 962.3,497.5 963.6,498.5C965.9,500.2 966.2,507.3 967.6,512.5C969.4,518.9 971.7,527.2 973.6,534.1C975.4,540.4 976.6,547.0 978.6,552.2C980.4,556.4 982.2,561.1 984.7,563.2C986.4,564.7 988.9,565.8 990.7,565.2C993.0,564.4 994.9,559.8 996.7,556.2C999.1,551.3 1000.5,543.6 1002.7,538.1C1004.6,533.4 1006.1,527.4 1008.7,525.1C1010.5,523.6 1012.9,522.8 1014.7,523.1C1016.6,523.4 1018.3,524.9 1019.7,527.1C1022.3,531.2 1023.1,540.9 1024.8,548.2C1026.5,555.9 1027.9,565.0 1029.8,572.2C1031.3,578.1 1032.6,584.0 1034.8,588.3C1036.5,591.6 1038.4,595.1 1040.8,596.3C1042.8,597.3 1045.7,597.1 1047.8,596.3C1050.1,595.3 1051.9,592.8 1053.8,590.3C1056.3,587.1 1058.7,582.5 1060.8,578.2C1063.1,573.8 1064.5,567.9 1066.9,564.2C1068.7,561.3 1070.8,557.4 1072.9,557.2C1074.8,557.0 1077.0,559.9 1078.9,562.2C1081.4,565.2 1082.8,572.2 1085.9,574.2C1088.4,575.8 1091.8,575.2 1094.9,575.2C1098.2,575.2 1101.9,573.4 1104.9,574.2C1107.9,575.1 1110.4,577.8 1113.0,580.2C1115.8,583.0 1118.2,587.0 1121.0,590.3C1123.9,593.6 1127.0,597.3 1130.0,600.3C1132.7,603.0 1135.6,607.4 1138.1,607.5C1140.2,607.5 1142.2,604.5 1144.1,602.5C1146.2,600.2 1148.1,597.1 1150.1,594.5C1152.1,591.8 1153.9,588.3 1156.1,586.4C1157.9,584.9 1159.8,584.2 1162.1,583.4C1165.0,582.4 1169.3,582.4 1172.1,581.4C1174.5,580.6 1176.3,579.6 1178.2,578.4C1180.0,577.3 1181.4,574.5 1183.2,574.4C1185.1,574.3 1187.1,577.4 1189.2,578.4C1191.1,579.4 1193.4,579.3 1195.2,580.4C1197.1,581.6 1198.3,584.1 1200.2,585.4C1202.0,586.7 1204.4,586.8 1206.2,588.4C1208.6,590.6 1209.8,595.7 1212.2,598.5C1214.5,601.0 1217.6,602.7 1220.3,604.5C1222.6,606.0 1224.8,607.8 1227.3,608.5C1229.5,609.1 1232.1,607.8 1234.3,608.5C1236.5,609.1 1238.2,610.9 1240.3,612.5C1242.8,614.4 1246.1,616.5 1248.3,619.5C1250.9,623.0 1252.3,628.1 1254.3,632.5C1256.4,637.0 1258.2,641.7 1260.6,646.2C1263.0,650.7 1266.1,655.2 1268.8,659.6C1271.4,663.9 1274.3,667.5 1276.4,672.2C1278.7,677.5 1280.1,684.8 1281.6,689.9C1282.7,693.7 1283.4,696.1 1284.6,700.1C1286.2,705.7 1288.3,713.2 1290.4,720.1C1292.8,727.8 1295.8,735.8 1298.2,744.2C1300.8,753.1 1303.0,763.1 1305.2,772.3C1307.4,781.1 1309.4,790.6 1311.3,798.3C1312.7,804.6 1313.7,811.9 1315.3,815.4C1316.1,817.1 1317.0,818.8 1317.9,818.8C1318.9,818.7 1320.0,816.5 1320.9,814.4C1322.7,810.2 1323.7,801.1 1325.3,794.3C1327.0,787.1 1329.1,778.3 1330.7,772.3C1331.9,767.9 1332.6,763.6 1333.9,761.2C1334.6,759.9 1335.5,758.4 1336.3,758.4C1337.2,758.4 1338.3,760.3 1339.1,761.8C1340.4,764.3 1341.1,768.6 1342.1,772.3C1343.2,776.4 1344.3,780.0 1345.3,785.3C1347.0,793.4 1348.7,805.6 1350.3,816.4C1352.1,827.9 1353.8,840.6 1355.4,852.4C1356.8,864.0 1358.2,875.2 1359.4,886.5C1360.5,897.9 1361.6,909.1 1362.4,920.6C1363.2,932.3 1363.1,945.5 1364.3,956.1C1365.2,965.0 1366.8,973.0 1368.3,980.2C1369.5,986.1 1370.6,992.1 1372.3,996.2C1373.5,999.1 1374.3,1001.9 1376.3,1003.2C1378.3,1004.6 1382.3,1002.8 1384.3,1004.2C1386.4,1005.7 1387.2,1008.9 1388.3,1012.3C1390.1,1017.4 1390.1,1027.3 1392.3,1032.3C1393.9,1035.8 1396.1,1037.7 1398.3,1040.3C1400.7,1043.1 1404.1,1045.2 1406.4,1048.3C1408.8,1051.8 1410.5,1055.9 1412.4,1060.4C1414.6,1065.7 1416.5,1072.1 1418.4,1078.4C1420.5,1085.4 1422.4,1093.3 1424.4,1100.5C1426.4,1107.3 1428.2,1114.5 1430.4,1120.5C1432.3,1125.7 1434.5,1130.3 1436.4,1134.5C1438.1,1138.2 1439.2,1143.2 1441.4,1144.6C1443.1,1145.6 1445.8,1145.7 1447.5,1144.6C1450.0,1142.8 1450.6,1135.2 1452.5,1130.5C1454.3,1125.8 1456.3,1121.3 1458.5,1116.5C1460.9,1111.3 1463.1,1104.6 1466.5,1100.5C1469.3,1096.9 1473.4,1094.9 1476.5,1092.4C1479.3,1090.3 1482.0,1088.6 1484.5,1086.4C1487.0,1084.3 1489.0,1080.1 1491.6,1079.4C1493.7,1078.9 1496.2,1080.8 1498.6,1081.4C1501.2,1082.1 1503.9,1083.6 1506.6,1083.4C1509.3,1083.3 1512.1,1081.6 1514.6,1080.4C1517.1,1079.3 1519.7,1078.4 1521.6,1076.4C1523.9,1074.0 1525.1,1070.5 1526.6,1066.4C1528.9,1060.6 1530.6,1051.5 1532.7,1044.3C1534.6,1037.5 1536.2,1028.9 1538.7,1024.3C1540.2,1021.5 1541.9,1018.3 1543.7,1018.3C1545.8,1018.2 1548.7,1022.8 1550.7,1026.3C1553.3,1030.9 1554.9,1037.6 1556.7,1044.3C1559.0,1052.6 1560.7,1063.2 1562.7,1072.4C1564.7,1081.3 1566.4,1093.0 1568.7,1098.5C1570.0,1101.3 1571.2,1104.3 1572.8,1104.5C1574.5,1104.6 1577.0,1101.3 1578.8,1098.5C1581.5,1093.9 1582.9,1085.4 1584.8,1078.4C1586.9,1070.8 1588.4,1062.1 1590.8,1054.4C1593.1,1046.8 1596.0,1039.2 1598.8,1032.3C1601.4,1025.9 1604.0,1019.8 1606.8,1014.3C1609.4,1009.2 1611.3,1002.8 1614.8,1000.2C1617.7,998.2 1622.0,1000.0 1624.9,998.2C1628.1,996.3 1630.1,991.3 1632.9,988.2C1635.5,985.3 1638.5,980.3 1640.9,980.2C1642.7,980.1 1644.3,982.1 1645.9,984.2C1648.5,987.6 1650.7,994.1 1652.9,1000.2C1655.8,1008.2 1658.9,1020.9 1661.0,1028.3C1662.3,1033.1 1663.1,1035.4 1664.1,1040.1C1665.6,1047.0 1666.7,1058.1 1668.2,1066.2C1669.4,1073.3 1670.6,1080.6 1672.2,1086.2C1673.4,1090.5 1674.2,1094.4 1676.2,1097.2C1677.8,1099.5 1680.4,1100.0 1682.2,1102.2C1684.5,1105.2 1686.2,1109.6 1688.2,1114.3C1690.9,1120.4 1693.5,1129.2 1696.2,1136.3C1698.8,1143.2 1701.6,1149.7 1704.2,1156.4C1706.9,1163.0 1709.4,1170.4 1712.3,1176.4C1714.8,1181.6 1717.2,1187.0 1720.3,1190.4C1722.7,1193.2 1725.5,1195.7 1728.3,1196.5C1730.8,1197.1 1734.0,1196.7 1736.3,1195.5C1738.8,1194.1 1740.4,1191.0 1742.3,1188.4C1744.4,1185.7 1746.2,1181.5 1748.3,1179.4C1749.9,1177.9 1751.8,1176.2 1753.4,1176.4C1755.1,1176.6 1756.8,1179.3 1758.4,1181.4C1760.5,1184.3 1762.0,1189.1 1764.4,1192.4C1766.7,1195.7 1769.4,1199.7 1772.4,1201.5C1774.9,1203.0 1777.7,1203.5 1780.4,1203.5C1783.1,1203.5 1786.1,1202.7 1788.4,1201.5C1790.7,1200.3 1792.3,1197.4 1794.5,1196.5C1796.3,1195.6 1798.5,1195.2 1800.5,1195.5C1802.5,1195.8 1804.4,1196.8 1806.5,1198.5C1809.7,1201.0 1813.2,1206.5 1816.5,1210.5C1819.8,1214.5 1823.2,1218.5 1826.5,1222.5C1829.9,1226.5 1833.1,1230.8 1836.6,1234.5C1839.8,1238.1 1843.2,1242.2 1846.6,1244.6C1849.2,1246.5 1852.1,1248.4 1854.6,1248.6C1856.7,1248.7 1858.7,1247.4 1860.6,1246.6C1862.4,1245.7 1863.9,1244.0 1865.6,1243.6C1867.2,1243.1 1869.0,1243.6 1870.6,1243.6" stroke="#d62728" stroke-width="7.0"/>
<path d="M299.0,88.7 L1869.6,1257.6" stroke="#000" stroke-width="5.0"/>
</g>
<g stroke="#111" stroke-width="4" fill="none" stroke-linecap="square">
<path d="M223,30.5 V1315 H1946.5"/>
</g>
<g stroke="#111" stroke-width="3" fill="none"><line x1="298" y1="1292" x2="298" y2="1315"/><line x1="597" y1="1292" x2="597" y2="1315"/><line x1="896" y1="1292" x2="896" y2="1315"/><line x1="1195" y1="1292" x2="1195" y2="1315"/><line x1="1494" y1="1292" x2="1494" y2="1315"/><line x1="1793" y1="1292" x2="1793" y2="1315"/><line x1="223" y1="74" x2="245.5" y2="74"/><line x1="223" y1="310.5" x2="245.5" y2="310.5"/><line x1="223" y1="547" x2="245.5" y2="547"/><line x1="223" y1="783.5" x2="245.5" y2="783.5"/><line x1="223" y1="1020" x2="245.5" y2="1020"/><line x1="223" y1="1257" x2="245.5" y2="1257"/></g>
<g class="tk"><text y="1371" x="298.0">0</text><text y="1371" x="565.7 597.0 628.3">100</text><text y="1371" x="864.7 896.0 927.3">200</text><text y="1371" x="1163.7 1195.0 1226.3">300</text><text y="1371" x="1462.7 1494.0 1525.3">400</text><text y="1371" x="1761.7 1793.0 1824.3">500</text><text y="94.5" x="130.5 154.5 194.0">1.0</text><text y="331.0" x="130.5 154.5 194.0">0.8</text><text y="567.5" x="130.5 154.5 194.0">0.6</text><text y="804.0" x="130.5 154.5 194.0">0.4</text><text y="1040.5" x="130.5 154.5 194.0">0.2</text><text y="1277.5" x="130.5 154.5 194.0">0.0</text></g>
<text class="yl" transform="translate(73.2,665) rotate(-90)">RUL</text>
<text class="xl" transform="translate(1080.5,1448) scale(1.3,1)">t/min</text>
<g><line x1="1488.5" y1="38.6" x2="1599" y2="38.6" stroke="#1668b0" stroke-width="6"/><text class="lg" x="1632.2" y="63.8">GRU</text><line x1="1488.5" y1="151.4" x2="1599" y2="151.4" stroke="#ff7a0c" stroke-width="6"/><text class="lg" x="1632.2" y="176.6">TCN</text><line x1="1488.5" y1="263.8" x2="1599" y2="263.8" stroke="#1e9b22" stroke-width="6"/><text class="lg" x="1632.2" y="289.4">Transformer</text><line x1="1488.5" y1="374.8" x2="1599" y2="374.8" stroke="#ff0d0d" stroke-width="6"/><text class="lg" x="1632.2" y="400.7">Proposed Method</text><line x1="1488.5" y1="487.3" x2="1599" y2="487.3" stroke="#000" stroke-width="6"/><text class="lg" x="1632.2" y="512.8">Ground Truth</text></g>
</svg>
</body></html>
